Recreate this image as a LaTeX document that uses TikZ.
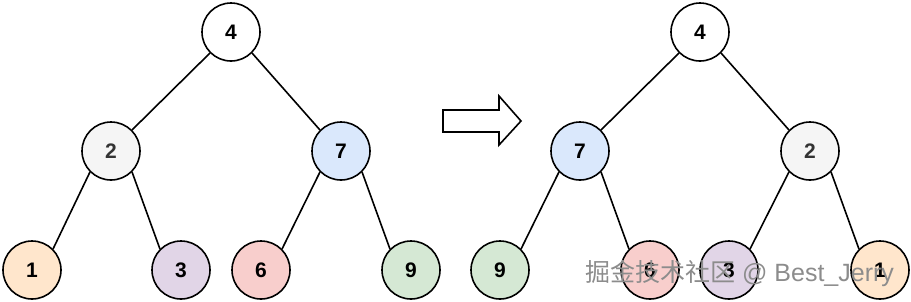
\documentclass[tikz,border=0pt]{standalone}
\usepackage{fontspec}
\setmainfont{Liberation Sans}
\newfontfamily\cjk{Noto Sans CJK SC}
\definecolor{nodeorange}{HTML}{FFE6CC}
\definecolor{nodepurple}{HTML}{E1D5E7}
\definecolor{nodered}{HTML}{F8CECC}
\definecolor{nodegreen}{HTML}{D5E8D4}
\definecolor{nodeblue}{HTML}{DAE8FC}
\definecolor{nodegray}{HTML}{F5F5F5}
\definecolor{graytext}{HTML}{333333}

\begin{document}
\begin{tikzpicture}[x=1pt, y=-1pt,
  every node/.style={font=\fontsize{21}{21}\selectfont\bfseries},
  vertex/.style={circle, draw, line width=1.6pt, minimum size=58pt, inner sep=0pt},
  link/.style={line width=1.6pt}]
  \useasboundingbox (0,0) rectangle (911,301);
  % tree before
  \node[vertex, fill=white] (l4) at (231,32) {4};
  \node[vertex, fill=nodegray, text=graytext] (l2) at (111,151) {2};
  \node[vertex, fill=nodeblue] (l7) at (341,151) {7};
  \node[vertex, fill=nodeorange] (l1) at (32,270) {1};
  \node[vertex, fill=nodepurple] (l3) at (181,270) {3};
  \node[vertex, fill=nodered] (l6) at (261,270) {6};
  \node[vertex, fill=nodegreen] (l9) at (411,270) {9};
  \draw[link] (l4.south west) -- (l2.north east);
  \draw[link] (l4.south east) -- (l7.north west);
  \draw[link] (l2.south west) -- (l1.north east);
  \draw[link] (l2.south east) -- (l3.north west);
  \draw[link] (l7.south west) -- (l6.north east);
  \draw[link] (l7.south east) -- (l9.north west);
  % hollow arrow
  \draw[line width=1.6pt, line join=miter] (443,110) -- (499,110) -- (499,96) -- (521,121)
    -- (499,145) -- (499,132) -- (443,132) -- cycle;
  % tree after (mirrored)
  \node[vertex, fill=white] (r4) at (700,32) {4};
  \node[vertex, fill=nodeblue] (r7) at (580,151) {7};
  \node[vertex, fill=nodegray, text=graytext] (r2) at (810,151) {2};
  \node[vertex, fill=nodegreen] (r9) at (500,270) {9};
  \node[vertex, fill=nodered] (r6) at (650,270) {6};
  \node[vertex, fill=nodepurple] (r3) at (729,270) {3};
  \node[vertex, fill=nodeorange] (r1) at (880,270) {1};
  \draw[link] (r4.south west) -- (r7.north east);
  \draw[link] (r4.south east) -- (r2.north west);
  \draw[link] (r7.south west) -- (r9.north east);
  \draw[link] (r7.south east) -- (r6.north west);
  \draw[link] (r2.south west) -- (r3.north east);
  \draw[link] (r2.south east) -- (r1.north west);
  % watermark
  \node[font=\fontsize{25}{25}\selectfont, text=black!45, anchor=west, inner sep=0pt] (wm) at (585,273)
    {{\cjk 掘金技术社区} @ Best\_Jerry};
\end{tikzpicture}
\end{document}
